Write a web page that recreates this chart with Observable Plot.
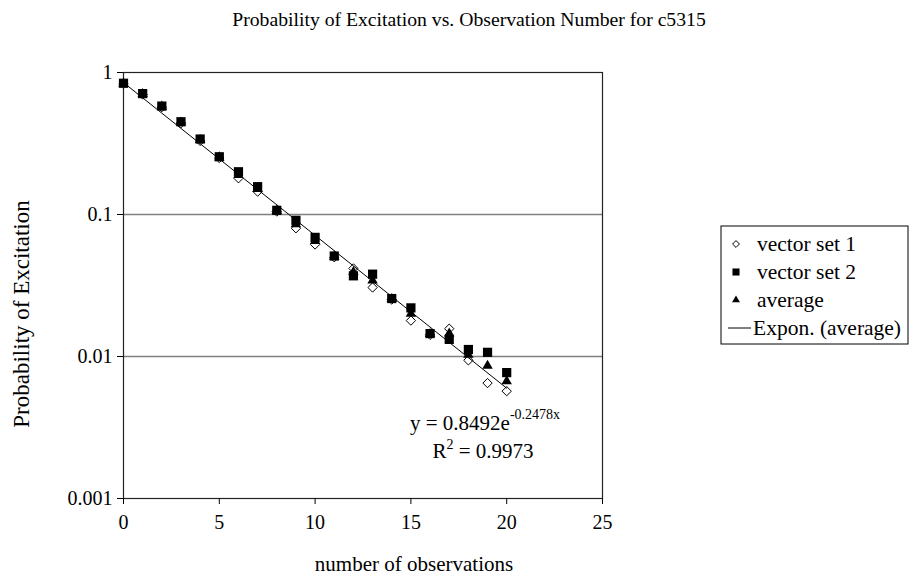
<!DOCTYPE html>
<html>
<head>
<meta charset="utf-8">
<script src="https://cdn.jsdelivr.net/npm/d3@7"></script>
<script src="https://cdn.jsdelivr.net/npm/@observablehq/plot@0.6"></script>
<style>
  html, body { margin: 0; padding: 0; background: white; }
  #chart svg { display: block; }
</style>
</head>
<body>
<div id="chart"></div>
<script>
// ---- data ----
const observations = [0,1,2,3,4,5,6,7,8,9,10,11,12,13,14,15,16,17,18,19,20];
const vectorSet1 = [0.83,0.70,0.57,0.44,0.33,0.25,0.18,0.145,0.105,0.080,0.0615,0.050,0.0417,0.0306,0.0252,0.0179,0.0142,0.0157,0.0094,0.0065,0.0057];
const vectorSet2 = [0.84,0.71,0.58,0.45,0.34,0.255,0.20,0.157,0.107,0.091,0.069,0.051,0.037,0.038,0.0256,0.022,0.0145,0.0132,0.0112,0.0107,0.0077];
const average    = [0.835,0.705,0.575,0.445,0.335,0.2525,0.19,0.151,0.106,0.0855,0.065,0.0505,0.0394,0.0343,0.0254,0.020,0.0144,0.0145,0.0103,0.0086,0.0067];
// exponential trendline end points (straight on a log axis)
const trendX = [0, 20];
const trendY = [0.8492, 0.00598];
const xTicks = [0,5,10,15,20,25];
const yTicks = [1,0.1,0.01,0.001];
const gridLines = [0.1, 0.01];
const legendLabels = ["vector set 1","vector set 2","average","Expon. (average)"];

const s1 = observations.map((x,i)=>({x, y: vectorSet1[i]}));
const s2 = observations.map((x,i)=>({x, y: vectorSet2[i]}));
const av = observations.map((x,i)=>({x, y: average[i]}));
const tr = trendX.map((x,i)=>({x, y: trendY[i]}));

const FONT = "Liberation Serif, Times New Roman, serif";

const chart = Plot.plot({
  width: 909,
  height: 582,
  marginLeft: 123,
  marginRight: 307,
  marginTop: 72,
  marginBottom: 84,
  style: {fontFamily: FONT, fontSize: "19px", color: "black", background: "white"},
  x: {domain: [0,25]},
  y: {type: "log", domain: [0.001, 1]},
  marks: [
    Plot.ruleY(gridLines, {stroke: "#808080", strokeWidth: 1.5}),
    Plot.frame({stroke: "#222", strokeWidth: 1.2}),
    Plot.axisX({ticks: xTicks, tickSize: 6, tickPadding: 10, label: null, fontSize: 20, tickFormat: d => String(d)}),
    Plot.axisY({ticks: yTicks, tickSize: 6, tickPadding: 5, label: null, fontSize: 20, tickFormat: d => String(d)}),
    Plot.dot(s1, {x: "x", y: "y", symbol: "diamond2", r: 4.2, fill: "white", stroke: "black", strokeWidth: 1}),
    Plot.dot(s2, {x: "x", y: "y", symbol: "square", r: 5.2, fill: "black", stroke: "none"}),
    Plot.dot(av, {x: "x", y: "y", symbol: "triangle2", r: 5, fill: "black", stroke: "none"}),
    Plot.line(tr, {x: "x", y: "y", stroke: "black", strokeWidth: 1})
  ]
});

document.getElementById("chart").appendChild(chart);

const svg = d3.select(chart);

// title
svg.append("text")
  .attr("x", 469).attr("y", 26)
  .attr("text-anchor", "middle")
  .style("font-family", FONT).style("font-size", "19.7px")
  .text("Probability of Excitation vs. Observation Number for c5315");

// axis titles
svg.append("text")
  .attr("x", 414).attr("y", 571)
  .attr("text-anchor", "middle")
  .style("font-family", FONT).style("font-size", "21px")
  .text("number of observations");

svg.append("text")
  .attr("transform", "translate(29,314) rotate(-90)")
  .attr("text-anchor", "middle")
  .style("font-family", FONT).style("font-size", "23px")
  .text("Probability of Excitation");

// equation
const eq = svg.append("text")
  .attr("x", 485).attr("y", 430)
  .attr("text-anchor", "middle")
  .style("font-family", FONT).style("font-size", "21px");
eq.append("tspan").text("y = 0.8492e");
eq.append("tspan").attr("dy", -11).style("font-size", "14px").text("-0.2478x");

const r2 = svg.append("text")
  .attr("x", 483).attr("y", 458)
  .attr("text-anchor", "middle")
  .style("font-family", FONT).style("font-size", "21px");
r2.append("tspan").text("R");
r2.append("tspan").attr("dy", -9).style("font-size", "14px").text("2");
r2.append("tspan").attr("dy", 9).text(" = 0.9973");

// legend
const lg = svg.append("g").attr("text-anchor", "start");
lg.append("rect").attr("x", 721).attr("y", 226).attr("width", 187).attr("height", 118)
  .attr("fill", "white").attr("stroke", "black").attr("stroke-width", 1);
const rowY = [244, 272, 300, 328];
const sym = [d3.symbolDiamond2, d3.symbolSquare, d3.symbolTriangle2];
const sz = [30, 50, 45];
legendLabels.forEach((lab, i) => {
  const y = rowY[i];
  if (i < 3) {
    lg.append("path")
      .attr("transform", `translate(736,${y})`)
      .attr("d", d3.symbol(sym[i], sz[i])())
      .attr("fill", i === 0 ? "white" : "black")
      .attr("stroke", i === 0 ? "black" : "none");
  } else {
    lg.append("line").attr("x1", 728).attr("x2", 751).attr("y1", y).attr("y2", y)
      .attr("stroke", "black").attr("stroke-width", 1);
  }
  lg.append("text").attr("x", i < 3 ? 757 : 753).attr("y", y + 7)
    .attr("text-anchor", "start")
    .style("font-family", FONT).style("font-size", "21.5px")
    .text(lab);
});
</script>
</body>
</html>
